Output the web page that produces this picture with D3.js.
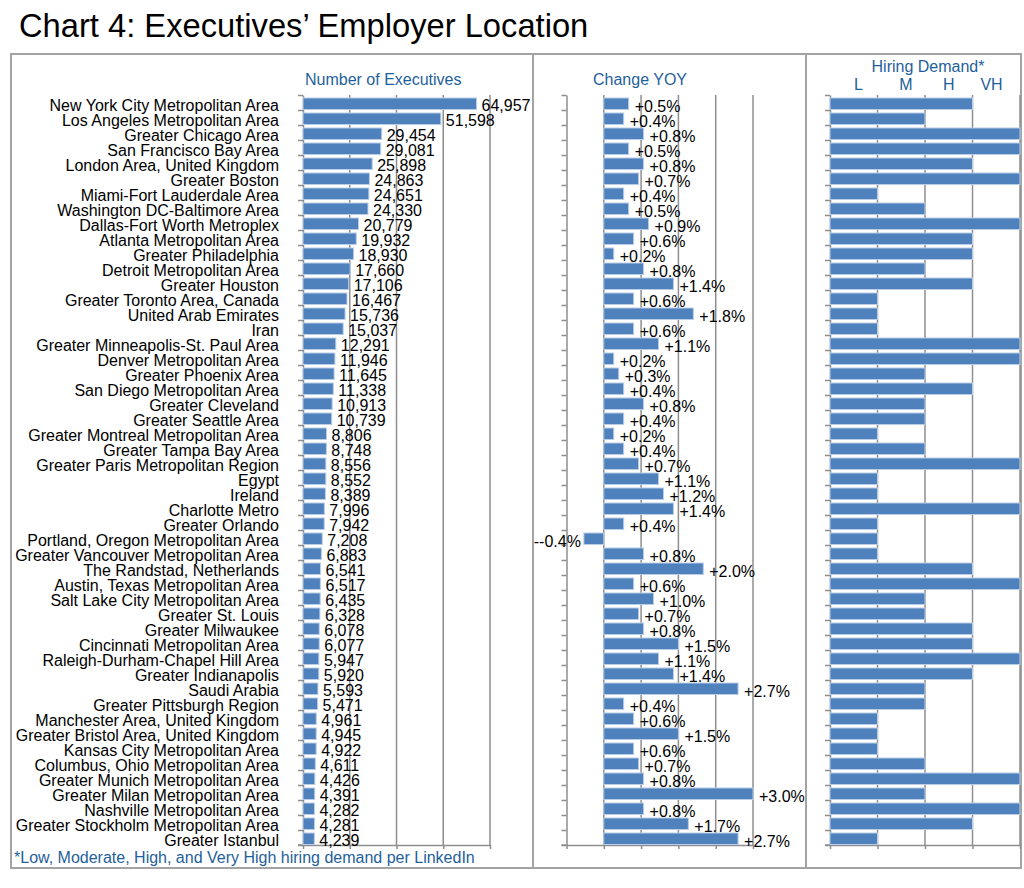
<!DOCTYPE html>
<html>
<head>
<meta charset="utf-8">
<script src="https://cdn.jsdelivr.net/npm/d3@7"></script>
<style>
  html, body { margin: 0; padding: 0; background: #fff; }
  svg { display: block; }
  text { font-family: "Liberation Sans", Arial, Helvetica, sans-serif; }
</style>
</head>
<body>
<svg id="chart" width="1024" height="888"></svg>
<script>
const categories = [
  "New York City Metropolitan Area","Los Angeles Metropolitan Area","Greater Chicago Area",
  "San Francisco Bay Area","London Area, United Kingdom","Greater Boston",
  "Miami-Fort Lauderdale Area","Washington DC-Baltimore Area","Dallas-Fort Worth Metroplex",
  "Atlanta Metropolitan Area","Greater Philadelphia","Detroit Metropolitan Area",
  "Greater Houston","Greater Toronto Area, Canada","United Arab Emirates","Iran",
  "Greater Minneapolis-St. Paul Area","Denver Metropolitan Area","Greater Phoenix Area",
  "San Diego Metropolitan Area","Greater Cleveland","Greater Seattle Area",
  "Greater Montreal Metropolitan Area","Greater Tampa Bay Area","Greater Paris Metropolitan Region",
  "Egypt","Ireland","Charlotte Metro","Greater Orlando","Portland, Oregon Metropolitan Area",
  "Greater Vancouver Metropolitan Area","The Randstad, Netherlands","Austin, Texas Metropolitan Area",
  "Salt Lake City Metropolitan Area","Greater St. Louis","Greater Milwaukee",
  "Cincinnati Metropolitan Area","Raleigh-Durham-Chapel Hill Area","Greater Indianapolis",
  "Saudi Arabia","Greater Pittsburgh Region","Manchester Area, United Kingdom",
  "Greater Bristol Area, United Kingdom","Kansas City Metropolitan Area","Columbus, Ohio Metropolitan Area",
  "Greater Munich Metropolitan Area","Greater Milan Metropolitan Area","Nashville Metropolitan Area",
  "Greater Stockholm Metropolitan Area","Greater Istanbul"
];
const executives = [
  64957,51598,29454,29081,25898,24863,24651,24330,20779,19932,
  18930,17660,17106,16467,15736,15037,12291,11946,11645,11338,
  10913,10739,8806,8748,8556,8552,8389,7996,7942,7208,
  6883,6541,6517,6435,6328,6078,6077,5947,5920,5593,
  5471,4961,4945,4922,4611,4426,4391,4282,4281,4239
];
const changeYOY = [
  0.5,0.4,0.8,0.5,0.8,0.7,0.4,0.5,0.9,0.6,
  0.2,0.8,1.4,0.6,1.8,0.6,1.1,0.2,0.3,0.4,
  0.8,0.4,0.2,0.4,0.7,1.1,1.2,1.4,0.4,-0.4,
  0.8,2.0,0.6,1.0,0.7,0.8,1.5,1.1,1.4,2.7,
  0.4,0.6,1.5,0.6,0.7,0.8,3.0,0.8,1.7,2.7
];
// 1 = Low, 2 = Moderate, 3 = High, 4 = Very High
const hiringDemand = [
  3,2,4,4,3,4,1,2,4,3,
  3,2,3,1,1,1,4,4,2,3,
  2,2,1,2,4,1,1,4,1,1,
  1,3,4,2,2,3,3,4,3,2,
  2,1,1,1,2,4,2,4,3,1
];
const demandLabels = ["L","M","H","VH"];
const execTicks = [0,17500,35000,52500,70000];
const yoyTicks = [-0.75,0,0.75,1.5,2.25,3];
const demandTicks = [0,1,2,3,4];

const titleText = "Chart 4: Executives\u2019 Employer Location";
const footnote = "*Low, Moderate, High, and Very High hiring demand per LinkedIn";

const BAR = "#4f81bd", BAR_STROKE = "#b9cde8", GRID = "#8e8e8e", BLUE = "#1f5f9c", FRAME = "#a3a3a3";

const svg = d3.select("#chart");
svg.append("rect").attr("width",1024).attr("height",888).attr("fill","#fff");

const yTop = 95, yBottom = 845;
const y = d3.scaleBand().domain(categories).range([yTop,yBottom]).paddingInner(0.2).paddingOuter(0.1);
const yRow = d3.scaleLinear().domain([0,categories.length]).range([yTop,yBottom]);

const x1 = d3.scaleLinear().domain([0,70000]).range([303,490]);
const x2 = d3.scaleLinear().domain([-0.75,3]).range([566.5,753]);
const x3 = d3.scaleLinear().domain([0,4]).range([830,1020]);

// Title
svg.append("text").attr("x",19).attr("y",37).attr("font-size",32.7).attr("fill","#000").text(titleText);

// Frame
const frame = svg.append("g").attr("fill","none").attr("stroke",FRAME).attr("stroke-width",2);
frame.append("rect").attr("x",11).attr("y",54).attr("width",1010).attr("height",814);
frame.append("line").attr("x1",533).attr("x2",533).attr("y1",54).attr("y2",868);
frame.append("line").attr("x1",806).attr("x2",806).attr("y1",54).attr("y2",868);

function panel(x, ticks, values) {
  const g = svg.append("g");
  // gridlines
  g.selectAll("line.grid").data(ticks.slice(1)).join("line")
    .attr("x1",d=>x(d)).attr("x2",d=>x(d)).attr("y1",yTop).attr("y2",yBottom)
    .attr("stroke",GRID).attr("stroke-width",1.5);
  // left axis
  const la = g.append("g").attr("transform",`translate(${x.range()[0]},0)`)
    .call(d3.axisLeft(yRow).tickValues(d3.range(categories.length+1)).tickSize(5).tickSizeOuter(0).tickFormat(""));
  la.selectAll("path,line").attr("stroke",GRID).attr("stroke-width",1.5);
  // bottom axis
  const ba = g.append("g").attr("transform",`translate(0,${yBottom})`)
    .call(d3.axisBottom(x).tickValues(ticks).tickSize(4).tickSizeOuter(0).tickFormat(""));
  ba.selectAll("path,line").attr("stroke",GRID).attr("stroke-width",1.5);
  g.append("line").attr("x1",x.range()[0]-5).attr("x2",x.range()[0]).attr("y1",yBottom).attr("y2",yBottom)
    .attr("stroke",GRID).attr("stroke-width",1.5);
  // bars
  const base = Math.max(x.domain()[0],0);
  g.selectAll("rect.bar").data(values).join("rect")
    .attr("x",d=>Math.min(x(base),x(d)))
    .attr("y",(d,i)=>y(categories[i])+1.5)
    .attr("width",d=>Math.abs(x(d)-x(base)))
    .attr("height",y.bandwidth()-0.5)
    .attr("fill",BAR).attr("stroke",BAR_STROKE).attr("stroke-width",1);
  return g;
}

// Panel 1
const p1 = panel(x1, execTicks, executives);
p1.selectAll("text.val").data(executives).join("text")
  .attr("x",d=>x1(d)+5).attr("y",(d,i)=>y(categories[i])+y.bandwidth()/2+8)
  .attr("font-size",16).attr("fill","#000").text(d=>d3.format(",")(d));
svg.append("g").selectAll("text").data(categories).join("text")
  .attr("x",279).attr("y",d=>y(d)+y.bandwidth()/2+8)
  .attr("text-anchor","end").attr("font-size",16).attr("fill","#000").text(d=>d);

// Panel 2
const p2 = panel(x2, yoyTicks, changeYOY);
p2.selectAll("text.val").data(changeYOY).join("text")
  .attr("x",d=> d>=0 ? x2(d)+6 : x2(d)-3)
  .attr("text-anchor",d=> d>=0 ? "start" : "end")
  .attr("y",(d,i)=>y(categories[i])+y.bandwidth()/2+9)
  .attr("font-size",16).attr("fill","#000")
  .text(d=> (d>=0 ? "+" : "-") + d.toFixed(1) + "%");

// Panel 3
panel(x3, demandTicks, hiringDemand);

// Headers
svg.append("text").attr("x",305).attr("y",85).attr("font-size",16).attr("fill",BLUE).text("Number of Executives");
svg.append("text").attr("x",640).attr("y",85).attr("text-anchor","middle").attr("font-size",16).attr("fill",BLUE).text("Change YOY");
svg.append("text").attr("x",928).attr("y",72).attr("text-anchor","middle").attr("font-size",16).attr("fill",BLUE).text("Hiring Demand*");
const labelPos = [0.6,1.6,2.5,3.4];
svg.append("g").selectAll("text").data(demandLabels).join("text")
  .attr("x",(d,i)=>x3(labelPos[i])).attr("y",90).attr("text-anchor","middle")
  .attr("font-size",16).attr("fill",BLUE).text(d=>d);

// Footnote
svg.append("text").attr("x",14).attr("y",863).attr("font-size",16).attr("fill",BLUE).text(footnote);
</script>
</body>
</html>
